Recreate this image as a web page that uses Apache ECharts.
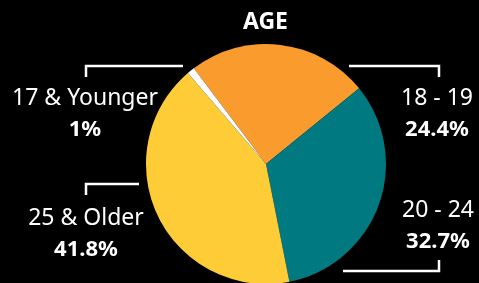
<!DOCTYPE html>
<html>
<head>
<meta charset="utf-8">
<script src="https://cdn.jsdelivr.net/npm/echarts@6/dist/echarts.min.js"></script>
<style>
  html, body { margin: 0; padding: 0; background: #000; }
  #chart { width: 479px; height: 283px; }
</style>
</head>
<body>
<div id="chart"></div>
<script>
// age groups, in drawing order (clockwise from upper left)
var categories = ["18 - 19", "20 - 24", "25 & Older", "17 & Younger"];
var shares = [24.4, 32.7, 41.8, 1];
var colors = ["#F99B2D", "#007A80", "#FDCC36", "#FFFFFF"];

// where each label block sits (centre of the two lines)
var labelPos = {
  "18 - 19": [437, 114],
  "20 - 24": [438, 226],
  "25 & Older": [86, 234],
  "17 & Younger": [85, 114]
};

var chart = echarts.init(document.getElementById("chart"));
var white = "#FFFFFF";

function bracket(points) {
  return {
    type: "polyline",
    shape: { points: points },
    style: { stroke: white, lineWidth: 2.5, fill: null }
  };
}

var option = {
  backgroundColor: "#000",
  animation: false,
  title: {
    text: "AGE",
    left: 238,
    top: 6,
    textStyle: { color: white, fontSize: 23, fontWeight: "bold", fontFamily: "Noto Sans" }
  },
  graphic: [
    bracket([[86, 77], [86, 66], [183, 66]]),
    bracket([[349, 66], [439, 66], [439, 77]]),
    bracket([[86, 195], [86, 184], [139, 184]]),
    bracket([[343, 271], [439, 271], [439, 260]])
  ],
  series: [
    {
      type: "pie",
      center: [266, 164],
      radius: [0, 120],
      startAngle: 127,
      clockwise: true,
      avoidLabelOverlap: false,
      data: categories.map(function (c, i) {
        return { name: c, value: shares[i], itemStyle: { color: colors[i] } };
      }),
      label: {
        show: true,
        position: "outside",
        formatter: "{n|{b}}\n{v|{c}%}",
        rich: {
          n: { color: white, fontSize: 23, fontFamily: "Noto Sans", lineHeight: 32, align: "center" },
          v: { color: white, fontSize: 22, fontWeight: "bold", fontFamily: "Noto Sans", lineHeight: 32, align: "center" }
        }
      },
      labelLine: { show: false },
      labelLayout: function (params) {
        var p = labelPos[categories[params.dataIndex]];
        return { x: p[0], y: p[1], align: "center", verticalAlign: "middle" };
      },
      emphasis: { disabled: true }
    }
  ]
};
chart.setOption(option);
</script>
</body>
</html>
